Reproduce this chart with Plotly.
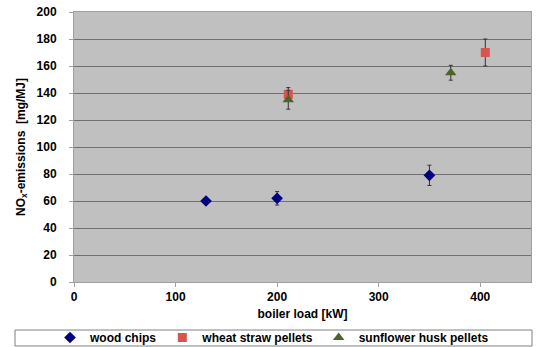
import plotly.graph_objects as go

wood_x = [130, 200, 350]
wood_y = [60, 62, 79]
wood_err = [0, 5, 7.5]

straw_x = [211, 405]
straw_y = [139, 170]
straw_err = [5, 10]

sun_x = [211, 371]
sun_y = [135, 155]
sun_err = [7, 5.5]

font = "Liberation Sans"

fig = go.Figure()
fig.add_trace(go.Scatter(x=wood_x, y=wood_y, mode="markers", name="wood chips",
                         marker=dict(symbol="diamond", color="#000080", size=9),
                         error_y=dict(type="data", array=wood_err, color="#333333", thickness=1, width=2)))
fig.add_trace(go.Scatter(x=straw_x, y=straw_y, mode="markers", name="wheat straw pellets",
                         marker=dict(symbol="square", color="#D9534F", size=9),
                         error_y=dict(type="data", array=straw_err, color="#333333", thickness=1, width=2)))
fig.add_trace(go.Scatter(x=sun_x, y=sun_y, mode="markers", name="sunflower husk pellets",
                         marker=dict(symbol="triangle-up", color="#4F6228", size=10),
                         error_y=dict(type="data", array=sun_err, color="#333333", thickness=1, width=2)))

# legend frame spanning the full width, as in the reference
fig.add_shape(type="rect", xref="paper", yref="paper",
              x0=(15 - 74) / 457, x1=(532 - 74) / 457,
              y0=(282 - 346) / 270, y1=(282 - 330) / 270,
              line=dict(color="#808080", width=1), fillcolor="white", layer="below")

fig.update_layout(
    width=536, height=347,
    margin=dict(l=74, r=5, t=12, b=65, autoexpand=False),
    paper_bgcolor="white", plot_bgcolor="#C0C0C0",
    font=dict(family=font, size=12, color="black"),
    showlegend=True,
    legend=dict(orientation="h", x=(50 - 74) / 457, xanchor="left", y=(282 - 323) / 270, yanchor="top",
                borderwidth=0, bgcolor="rgba(0,0,0,0)", itemwidth=30,
                font=dict(family=font, size=12, color="black", weight="bold"),
                tracegroupgap=0),
    xaxis=dict(range=[0, 450], tickvals=[0, 100, 200, 300, 400], showgrid=False, zeroline=False,
               showline=True, linecolor="#A0A0A0", linewidth=1, mirror=True,
               ticks="outside", ticklen=4, tickcolor="#A0A0A0",
               tickfont=dict(family=font, size=12, weight="bold"),
               title=dict(text="<b>boiler load [kW]</b>", font=dict(family=font, size=12), standoff=6)),
    yaxis=dict(range=[0, 200], tickvals=list(range(0, 201, 20)), showgrid=True, gridcolor="#707070", gridwidth=1,
               zeroline=False, showline=True, linecolor="#A0A0A0", linewidth=1, mirror=True,
               ticks="outside", ticklen=4, tickcolor="#A0A0A0", ticklabelstandoff=10,
               tickfont=dict(family=font, size=12, weight="bold"),
               title=dict(text="<b>NO<sub>x</sub>-emissions  [mg/MJ]</b>", font=dict(family=font, size=12), standoff=8)),
)

fig.write_html("out.html")
